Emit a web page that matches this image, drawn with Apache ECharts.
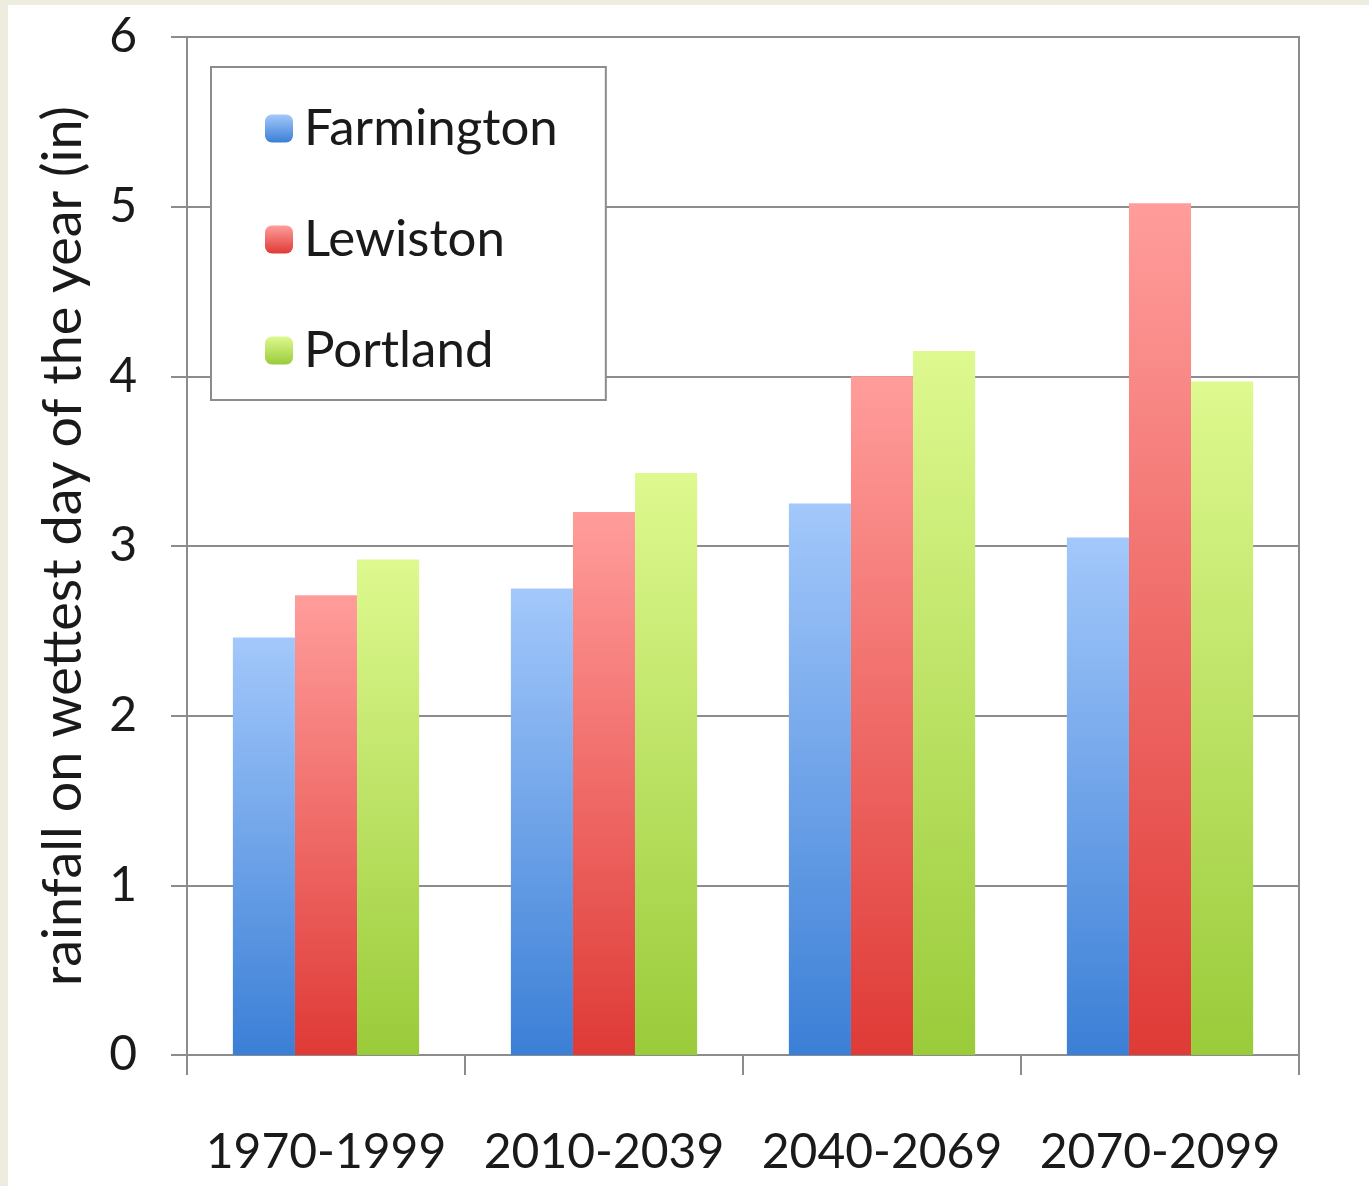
<!DOCTYPE html>
<html lang="en">
<head>
  <meta charset="UTF-8">
  <title>Rainfall on wettest day of the year</title>
  <script src="https://cdn.jsdelivr.net/npm/echarts@6/dist/echarts.min.js"></script>
  <style>
    body { margin: 0; background: #eeebdf; }
    #chart { position: absolute; left: 8px; top: 5px; width: 1361px; height: 1181px; background: #fff; }
  </style>
</head>
<body>

<div id="chart"></div>

<script>
  // periods on the x axis
  var periods = ['1970-1999', '2010-2039', '2040-2069', '2070-2099'];
  // rainfall (in) per town
  var farmington = [2.46, 2.75, 3.25, 3.05];
  var lewiston = [2.71, 3.20, 4.00, 5.02];
  var portland = [2.92, 3.43, 4.15, 3.97];

  var font = 'Lato';

  function grad(top, bottom) {
    return new echarts.graphic.LinearGradient(0, 0, 0, 1, [
      { offset: 0, color: top },
      { offset: 1, color: bottom }
    ]);
  }

  function bar(name, data, top, bottom) {
    return {
      name: name,
      type: 'bar',
      data: data,
      barGap: '0%',
      barCategoryGap: '33%',
      itemStyle: { color: grad(top, bottom) }
    };
  }

  var myChart = echarts.init(document.getElementById('chart'));

  var option = {
    animation: false,
    grid: {
      left: 179, top: 32, right: 70, bottom: 131,
      show: true, borderColor: '#8c8c8c', borderWidth: 2
    },
    legend: {
      orient: 'vertical',
      left: 203, top: 62,
      padding: [36, 48, 24, 54],
      itemGap: 60,
      itemWidth: 28, itemHeight: 28,
      backgroundColor: '#fff',
      borderColor: '#8c8c8c', borderWidth: 2,
      textStyle: { fontFamily: font, fontSize: 51, color: '#1a1a1a', lineHeight: 50, padding: [0, 0, 0, 6] },
      data: ['Farmington', 'Lewiston', 'Portland']
    },
    xAxis: {
      type: 'category',
      data: periods,
      axisLine: { lineStyle: { color: '#8c8c8c', width: 2 } },
      axisTick: { show: true, interval: 0, length: 20, lineStyle: { color: '#8c8c8c', width: 2 } },
      axisLabel: { interval: 0, fontFamily: font, fontSize: 48, color: '#1a1a1a', margin: 74 }
    },
    yAxis: {
      type: 'value',
      min: 0, max: 6, interval: 1,
      name: 'rainfall on wettest day of the year (in)',
      nameLocation: 'middle',
      nameGap: 96,
      nameTextStyle: { fontFamily: font, fontSize: 54, color: '#1a1a1a' },
      axisLine: { show: true, lineStyle: { color: '#8c8c8c', width: 2 } },
      axisTick: { show: true, length: 16, lineStyle: { color: '#8c8c8c', width: 2 } },
      axisLabel: { fontFamily: font, fontSize: 48, color: '#1a1a1a', margin: 50 },
      splitLine: { lineStyle: { color: '#8c8c8c', width: 2 } }
    },
    series: [
      bar('Farmington', farmington, '#a3c8fb', '#3b7fd6'),
      bar('Lewiston', lewiston, '#ff9d9b', '#df3a36'),
      bar('Portland', portland, '#def98f', '#9acb3a')
    ]
  };

  myChart.setOption(option);
</script>

</body>
</html>
